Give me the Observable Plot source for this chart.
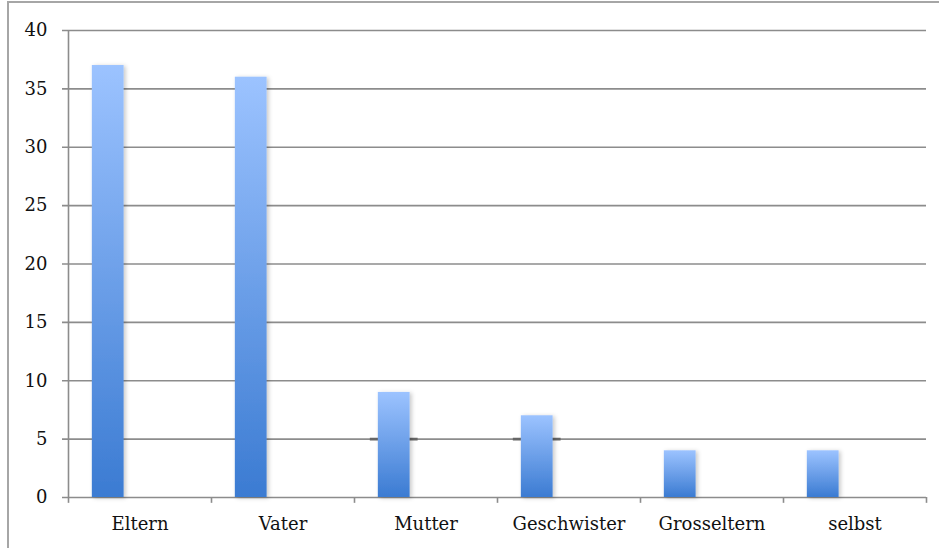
<!DOCTYPE html>
<html>
<head>
<meta charset="utf-8">
<script src="https://cdn.jsdelivr.net/npm/d3@7"></script>
<script src="https://cdn.jsdelivr.net/npm/@observablehq/plot@0.6"></script>
<style>
  html, body { margin: 0; padding: 0; background: #fff; }
  #wrap { position: relative; width: 939px; height: 548px; overflow: hidden; }
  #frame { position: absolute; left: 7px; top: 1px; right: -4px; bottom: -4px;
           border-top: 2px solid #a6a6a6; border-left: 2px solid #a6a6a6; pointer-events: none; }
  svg { display: block; }
</style>
</head>
<body>
<div id="wrap"><div id="frame"></div></div>
<script>
// Categories and counts
const categories = ["Eltern", "Vater", "Mutter", "Geschwister", "Grosseltern", "selbst"];
const counts = [37, 36, 9, 7, 4, 4];
// Short dark markers shown at the value 5 for two categories
const markerValues = [null, null, 5, 5, null, null];
const yTicks = [0, 5, 10, 15, 20, 25, 30, 35, 40];

const data = categories.map((c, i) => ({category: c, count: counts[i], marker: markerValues[i]}));

const W = 939, H = 548;
const mLeft = 68, mRight = 13, mTop = 30, mBottom = 51;
const band = (W - mLeft - mRight) / categories.length;
// clustered-bar geometry: three slots per band with a 150% gap, first slot used
const barW = band / 4.5;
const barOffset = 0.75 * barW;
const gridColor = "#8c8c8c";
const font = "'DejaVu Serif', serif";

const plot = Plot.plot({
  width: W,
  height: H,
  marginLeft: mLeft,
  marginRight: mRight,
  marginTop: mTop,
  marginBottom: mBottom,
  style: {fontFamily: font, fontSize: "18px", color: "#111", background: "transparent", overflow: "visible"},
  x: {domain: categories, padding: 0, label: null},
  y: {domain: [0, 40], label: null},
  marks: [
    // horizontal gridlines, extending left as tick marks
    Plot.ruleY(yTicks.filter(d => d > 0), {stroke: gridColor, strokeWidth: 1.6, insetLeft: -6}),
    Plot.ruleY([0], {stroke: gridColor, strokeWidth: 1.6, insetLeft: -6}),
    // value axis line
    Plot.ruleX([categories[0]], {dx: -band / 2, y1: 0, y2: 40, stroke: gridColor, strokeWidth: 1.6}),
    // category boundary ticks below the baseline
    Plot.ruleX(categories, {dx: -band / 2, y1: 0, y2: -0.5, stroke: gridColor, strokeWidth: 1.6}),
    Plot.ruleX([categories[categories.length - 1]], {dx: band / 2, y1: 0, y2: -0.5, stroke: gridColor, strokeWidth: 1.6}),
    // dark markers behind the bars
    Plot.tickY(data.filter(d => d.marker != null), {
      x: "category", y: "marker", stroke: "#666", strokeWidth: 2.6,
      insetLeft: barOffset - 8, insetRight: band - barOffset - barW - 8
    }),
    Plot.barY(data, {
      x: "category", y: "count", fill: "url(#barGrad)",
      insetLeft: barOffset, insetRight: band - barOffset - barW
    }),
    Plot.axisY({ticks: yTicks, tickSize: 0, tickPadding: 21, fontSize: 18}),
    Plot.axisX({tickSize: 0, tickPadding: 20, fontSize: 18})
  ]
});

// gradient used by the bars: light blue at the top to a deeper blue at the bottom
const svg = d3.select(plot);
const defs = svg.insert("defs", ":first-child");
const grad = defs.append("linearGradient")
  .attr("id", "barGrad").attr("x1", 0).attr("y1", 0).attr("x2", 0).attr("y2", 1);
grad.append("stop").attr("offset", "0%").attr("stop-color", "#9cc3ff");
grad.append("stop").attr("offset", "100%").attr("stop-color", "#3b7bd2");
const shadow = defs.append("filter").attr("id", "barShadow")
  .attr("x", "-20%").attr("y", "-5%").attr("width", "150%").attr("height", "115%");
shadow.append("feDropShadow").attr("dx", 2).attr("dy", 1).attr("stdDeviation", 2)
  .attr("flood-color", "#000").attr("flood-opacity", 0.22);
svg.selectAll("g[aria-label='bar'] rect")
  .attr("fill", "url(#barGrad)")
  .attr("filter", "url(#barShadow)");

document.getElementById("wrap").appendChild(plot);
</script>
</body>
</html>
